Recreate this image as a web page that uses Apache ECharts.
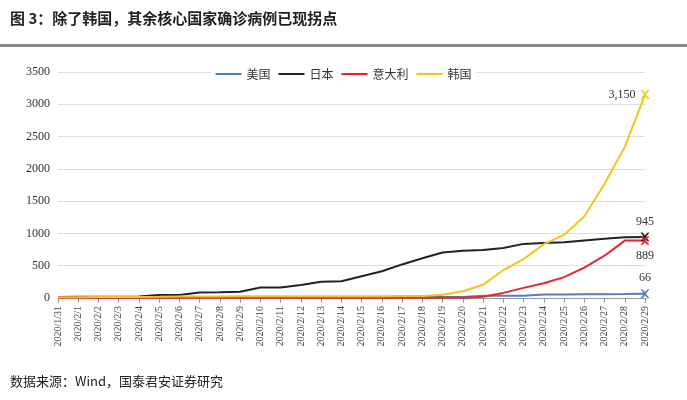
<!DOCTYPE html>
<html>
<head>
<meta charset="utf-8">
<script src="https://cdn.jsdelivr.net/npm/echarts@6/dist/echarts.min.js"></script>
<style>
  body { margin: 0; background: #fff; }
  #main { width: 687px; height: 400px; }
</style>
</head>
<body>
<div id="main"></div>
<script>
var dates = [];
for (var d = 0; d < 30; d++) {
  dates.push(d === 0 ? '2020/1/31' : '2020/2/' + d);
}
var usa = [6, 8, 8, 11, 11, 11, 12, 12, 12, 12, 12, 13, 13, 14, 15, 15, 15, 15, 15, 15, 15, 35, 35, 35, 53, 53, 59, 60, 62, 66];
var japan = [15, 20, 20, 20, 22, 45, 45, 86, 90, 96, 161, 163, 203, 251, 259, 338, 414, 520, 616, 705, 731, 744, 773, 838, 851, 862, 891, 919, 940, 945];
var italy = [2, 2, 2, 2, 2, 2, 3, 3, 3, 3, 3, 3, 3, 3, 3, 3, 3, 3, 3, 3, 3, 20, 79, 157, 229, 323, 470, 655, 889, 889];
var korea = [11, 12, 15, 15, 16, 19, 23, 24, 24, 27, 27, 28, 28, 28, 28, 28, 29, 30, 31, 51, 104, 204, 433, 602, 833, 977, 1261, 1766, 2337, 3150];

var chart = echarts.init(document.getElementById('main'));
var cross = 'path://M0,0L2,0L5,3L8,0L10,0L6,5L10,10L8,10L5,7L2,10L0,10L4,5Z';

function mk(name, data, color, text, pos) {
  var pts = data.map(function (v, i) {
    if (i !== data.length - 1) return { value: v, symbol: 'none' };
    return {
      value: v, symbol: cross, symbolSize: 9,
      label: { show: true, formatter: text, position: pos, color: '#333', fontFamily: 'Liberation Serif', fontSize: 12 }
    };
  });
  return {
    name: name, type: 'line', data: pts,
    showSymbol: true, showAllSymbol: true,
    lineStyle: { color: color, width: 2 },
    itemStyle: { color: color }
  };
}

chart.setOption({
  animation: false,
  textStyle: { fontFamily: '"Noto Sans CJK SC", serif' },
  graphic: [
    { type: 'text', left: 10, top: 11, style: { text: '图 3：除了韩国，其余核心国家确诊病例已现拐点', font: 'bold 15px "Noto Sans CJK SC"', fill: '#222' } },
    { type: 'rect', shape: { x: 0, y: 44, width: 687, height: 3 }, style: { fill: '#888' } },
    { type: 'text', left: 10, top: 375, style: { text: '数据来源：Wind，国泰君安证券研究', font: '13px "Noto Sans CJK SC"', fill: '#222' } }
  ],
  legend: {
    top: 63, left: 'center',
    itemWidth: 26, itemHeight: 2, icon: 'rect',
    textStyle: { fontSize: 12, color: '#333' },
    backgroundColor: '#fff',
    data: ['美国', '日本', '意大利', '韩国']
  },
  grid: { left: 58, right: 42, top: 72, bottom: 102 },
  xAxis: {
    type: 'category', data: dates, boundaryGap: false,
    axisLine: { lineStyle: { color: '#999' } },
    axisTick: { show: true, alignWithLabel: true, lineStyle: { color: '#999' } },
    axisLabel: { rotate: 90, interval: 0, fontSize: 10, color: '#444', fontFamily: 'Liberation Serif' }
  },
  yAxis: {
    type: 'value', min: 0, max: 3500, interval: 500,
    axisLine: { show: false }, axisTick: { show: false },
    axisLabel: { fontSize: 12, color: '#333', fontFamily: 'Liberation Serif', formatter: function (v) { return String(v); } },
    splitLine: { lineStyle: { color: '#ddd' } }
  },
  series: [
    mk('美国', usa, '#4f81bd', '66', 'top'),
    mk('日本', japan, '#222222', '945', 'top'),
    mk('意大利', italy, '#e8262b', '889', 'bottom'),
    mk('韩国', korea, '#f2c51c', '3,150', 'left')
  ]
});
</script>
</body>
</html>
